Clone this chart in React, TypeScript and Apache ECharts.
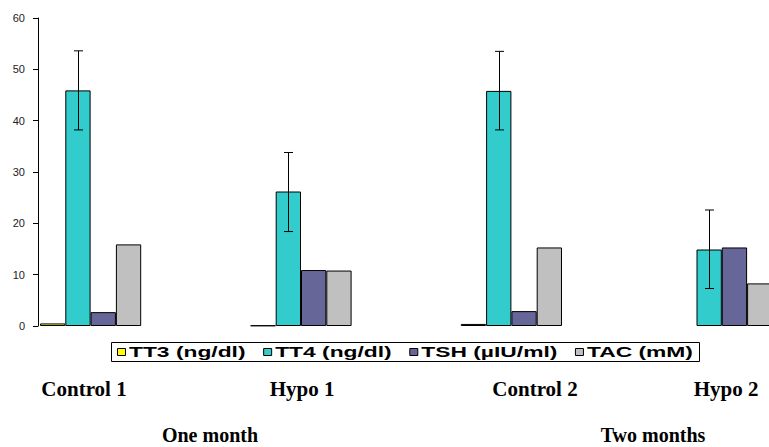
import React, { useEffect, useRef } from "react";
import * as echarts from "echarts";

const categories = ["Control 1", "Hypo 1", "Control 2", "Hypo 2"];
const periods = ["One month", "Two months"];
const seriesNames = ["TT3 (ng/dl)", "TT4 (ng/dl)", "TSH (µIU/ml)", "TAC (mM)"];
const tt3 = [0.5, 0.1, 0.4, null];
const tt4 = [45.9, 26.2, 45.8, 14.9];
const tsh = [2.7, 10.9, 2.9, 15.3];
const tac = [15.9, 10.8, 15.3, 8.3];
const tt4Low = [38.2, 18.4, 38.2, 7.3];
const tt4High = [53.6, 33.8, 53.5, 22.6];
const yMin = 0;
const yMax = 60;
const yStep = 10;

const colors = ["#FFFF00", "#33CCCC", "#666699", "#C0C0C0"];
const catLabelX = [84, 302, 535, 726];
const periodLabelX = [210, 653];
const BAR_W = 25.3;

function measure(text: string, font: string): number {
  const c = document.createElement("canvas").getContext("2d");
  if (!c) return text.length * 8;
  c.font = font;
  return c.measureText(text).width;
}

export default function App() {
  const ref = useRef<HTMLDivElement>(null);
  useEffect(() => {
    if (!ref.current) return;
    const chart = echarts.init(ref.current, undefined, { renderer: "svg" });
    const values = [tt3, tt4, tsh, tac];

    const legX = 111, legY = 342, legW = 588, legH = 19;
    const lgFont = "bold 14px 'Liberation Sans', Arial, sans-serif";
    const sx = 1.63;
    const pad = 6, iconW = 8, iconGap = 4;
    const widths = seriesNames.map((n) => measure(n, lgFont) * sx);
    const totalText = widths.reduce((a, b) => a + b, 0);
    const gap = (legW - 2 * pad - 4 * (iconW + iconGap) - totalText) / 3;
    const legendEls: any[] = [
      {
        type: "rect",
        shape: { x: legX + 0.5, y: legY + 0.5, width: legW, height: legH },
        style: { fill: "#fff", stroke: "#000", lineWidth: 1 },
        z: 10,
      },
    ];
    let cx = legX + pad;
    seriesNames.forEach((n, i) => {
      legendEls.push({
        type: "rect",
        shape: { x: cx + 0.5, y: legY + 6.5, width: iconW, height: iconW - 1 },
        style: { fill: colors[i], stroke: "#000", lineWidth: 1 },
        z: 11,
      });
      cx += iconW + iconGap;
      legendEls.push({
        type: "text",
        x: cx,
        y: legY + legH / 2 + 1,
        scaleX: sx,
        style: {
          text: n,
          fontSize: 14,
          fontWeight: "bold",
          fontFamily: "'Liberation Sans', Arial, sans-serif",
          fill: "#000",
          verticalAlign: "middle",
          align: "left",
        },
        z: 11,
      });
      cx += widths[i] + gap;
    });

    const serif = "'Liberation Serif', 'Times New Roman', serif";
    const labelEls: any[] = categories.map((c, i) => ({
      type: "text",
      x: catLabelX[i],
      y: 388.5,
      style: {
        text: c,
        fontSize: 21,
        fontWeight: "bold",
        fontFamily: serif,
        fill: "#000",
        align: "center",
        verticalAlign: "middle",
      },
    }));
    periods.forEach((p, i) => {
      labelEls.push({
        type: "text",
        x: periodLabelX[i],
        y: 435,
        style: {
          text: p,
          fontSize: 20,
          fontWeight: "bold",
          fontFamily: serif,
          fill: "#000",
          align: "center",
          verticalAlign: "middle",
        },
      });
    });

    const errData = categories.map((_, i) => [i, tt4Low[i], tt4High[i]]);

    chart.setOption({
      animation: false,
      backgroundColor: "#fff",
      grid: [
        { left: 38, top: 18, width: 10, height: 308, outerBoundsMode: "none" },
        { left: -14.6, top: 18, width: 4 * 210.4, height: 308, outerBoundsMode: "none" },
      ],
      xAxis: [
        { type: "value", gridIndex: 0, show: false },
        { type: "category", gridIndex: 1, data: categories, show: false },
      ],
      yAxis: [
        {
          type: "value",
          gridIndex: 0,
          min: yMin,
          max: yMax,
          interval: yStep,
          axisLine: { show: true, lineStyle: { color: "#000", width: 1 } },
          axisTick: { show: true, length: 5, lineStyle: { color: "#000" } },
          axisLabel: {
            color: "#222",
            fontSize: 11,
            margin: 13,
            fontFamily: "'Liberation Sans', Arial, sans-serif",
          },
          splitLine: { show: false },
        },
        { type: "value", gridIndex: 1, min: yMin, max: yMax, interval: yStep, show: false },
      ],
      series: [
        ...seriesNames.map((n, i) => ({
          name: n,
          type: "bar",
          xAxisIndex: 1,
          yAxisIndex: 1,
          data: values[i],
          barWidth: BAR_W,
          barGap: "0%",
          itemStyle: { color: colors[i], borderColor: "#000", borderWidth: 1 },
        })),
        {
          type: "custom",
          name: "TT4 error",
          xAxisIndex: 1,
          yAxisIndex: 1,
          z: 5,
          data: errData,
          encode: { x: 0, y: [1, 2] },
          renderItem: (params: any, api: any) => {
            const ci = api.value(0);
            const lo = api.coord([ci, api.value(1)]);
            const hi = api.coord([ci, api.value(2)]);
            const x = Math.round(lo[0] - BAR_W / 2) + 0.5;
            const cap = 4.5;
            const st = { stroke: "#000", lineWidth: 1 };
            return {
              type: "group",
              children: [
                { type: "line", shape: { x1: x, y1: lo[1], x2: x, y2: hi[1] }, style: st },
                { type: "line", shape: { x1: x - cap, y1: hi[1], x2: x + cap, y2: hi[1] }, style: st },
                { type: "line", shape: { x1: x - cap, y1: lo[1], x2: x + cap, y2: lo[1] }, style: st },
              ],
            };
          },
        },
      ],
      graphic: [...legendEls, ...labelEls],
    });
    return () => chart.dispose();
  }, []);
  return (
    <div
      ref={ref}
      style={{ position: "fixed", left: 0, top: 0, width: 769, height: 447 }}
    />
  );
}
